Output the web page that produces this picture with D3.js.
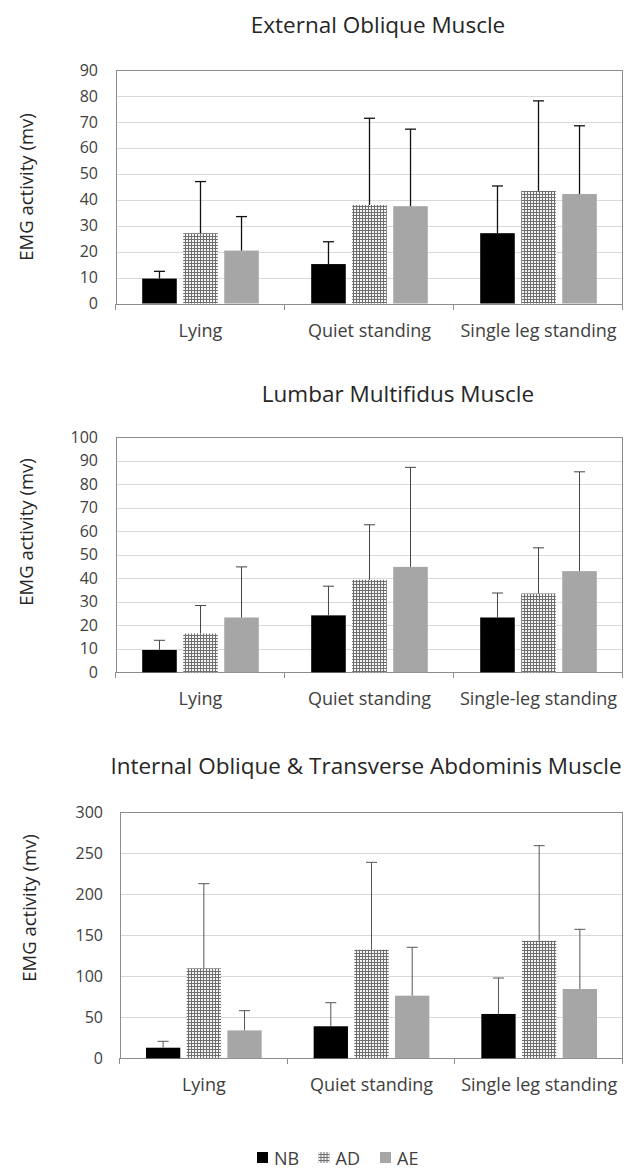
<!DOCTYPE html>
<html><head><meta charset="utf-8">
<script src="https://cdn.jsdelivr.net/npm/d3@7"></script>
<style>body{margin:0;background:#fff}svg{display:block}text{font-family:"Open Sans",sans-serif}</style>
</head><body>
<svg id="c" width="624" height="1169"></svg>
<script>
const series = ["NB","AD","AE"];
const extCategories = ["Lying","Quiet standing","Single leg standing"];
const lumCategories = ["Lying","Quiet standing","Single-leg standing"];
const intCategories = ["Lying","Quiet standing","Single leg standing"];
// [NB, AD, AE] per category
const extMeans = [[9.6,27.1,20.4],[15.2,38.0,37.5],[27.1,43.4,42.2]];
const extSD    = [[2.8,19.9,13.1],[8.6,33.4,29.7],[18.2,34.7,26.3]];
const lumMeans = [[9.5,16.5,23.3],[24.2,39.3,44.8],[23.3,33.5,43.0]];
const lumSD    = [[4.1,11.9,21.5],[12.4,23.4,42.3],[10.4,19.4,42.2]];
const intMeans = [[12.9,109.6,34],[39,132.3,76.3],[54,143.2,84.4]];
const intSD    = [[7.8,103.1,24],[28.7,106.4,58.9],[43.8,115.8,72.7]];
const extTicks = [0,10,20,30,40,50,60,70,80,90];
const lumTicks = [0,10,20,30,40,50,60,70,80,90,100];
const intTicks = [0,50,100,150,200,250,300];

const svg = d3.select("#c");
const defs = svg.append("defs");
const pat = defs.append("pattern").attr("id","dots").attr("patternUnits","userSpaceOnUse")
  .attr("width",3).attr("height",3);
pat.append("rect").attr("width",3).attr("height",3).attr("fill","#6e6e6e");
pat.append("rect").attr("x",0).attr("y",0).attr("width",2).attr("height",2).attr("fill","#f4f4f4");
const fills = {NB:"#000", AD:"url(#dots)", AE:"#a6a6a6"};

function chart(o){
  const g = svg.append("g");
  const x = d3.scaleBand().domain(o.cats).range([o.left,o.right]);
  const bw = x.bandwidth();
  const xi = d3.scaleBand().domain(series).range([0.155*bw, 0.845*bw]).paddingInner(0.157);
  const y = d3.scaleLinear().domain([0,o.max]).range([o.bottom,o.top]);
  // gridlines
  g.append("g").selectAll("line").data(o.ticks.filter(t=>t>0 && t<o.max)).join("line")
    .attr("x1",o.left).attr("x2",o.right).attr("y1",d=>Math.round(y(d))+0.5).attr("y2",d=>Math.round(y(d))+0.5)
    .attr("stroke","#d9d9d9").attr("stroke-width",1);
  // plot border
  g.append("rect").attr("x",o.left+0.5).attr("y",Math.round(o.top)+0.5)
    .attr("width",o.right-o.left-1).attr("height",Math.round(o.bottom)-Math.round(o.top))
    .attr("fill","none").attr("stroke","#8c8c8c").attr("stroke-width",1);
  // bars
  const data = [];
  o.cats.forEach((c,i)=>series.forEach((s,j)=>data.push({c,s,v:o.means[i][j],e:o.sd[i][j]})));
  g.append("g").selectAll("rect").data(data).join("rect")
    .attr("x",d=>x(d.c)+xi(d.s)).attr("width",xi.bandwidth())
    .attr("y",d=>y(d.v)).attr("height",d=>y(0)-y(d.v)).attr("fill",d=>fills[d.s]);
  // error bars
  const eb = g.append("g").attr("stroke",o.errColor).attr("stroke-width",o.errW);
  eb.selectAll("line.v").data(data).join("line").attr("class","v")
    .attr("x1",d=>x(d.c)+xi(d.s)+xi.bandwidth()/2).attr("x2",d=>x(d.c)+xi(d.s)+xi.bandwidth()/2)
    .attr("y1",d=>y(d.v)).attr("y2",d=>y(d.v+d.e));
  eb.selectAll("line.c").data(data).join("line").attr("class","c")
    .attr("x1",d=>x(d.c)+xi(d.s)+xi.bandwidth()/2-5.5).attr("x2",d=>x(d.c)+xi(d.s)+xi.bandwidth()/2+5.5)
    .attr("y1",d=>y(d.v+d.e)).attr("y2",d=>y(d.v+d.e));
  // x axis
  const xa = g.append("g").attr("transform",`translate(0,${Math.round(o.bottom)})`)
    .call(d3.axisBottom(x).tickSize(0).tickPadding(0));
  xa.select(".domain").remove();
  xa.selectAll("text").attr("font-size",18).attr("fill","#404040").attr("dy",null)
    .attr("y",32.5);
  // category boundary ticks
  const bounds = o.cats.map(c=>x(c)).concat([o.right]);
  g.append("g").selectAll("line").data(bounds).join("line")
    .attr("x1",d=>Math.round(d)-0.5).attr("x2",d=>Math.round(d)-0.5)
    .attr("y1",Math.round(o.bottom)).attr("y2",Math.round(o.bottom)+6)
    .attr("stroke","#8c8c8c");
  // y axis labels
  const ya = g.append("g").attr("transform",`translate(${o.left},0)`)
    .call(d3.axisLeft(y).tickValues(o.ticks).tickSize(0).tickPadding(o.labPad).tickFormat(d3.format("d")));
  ya.select(".domain").remove();
  ya.selectAll("text").attr("font-size",16).attr("fill","#404040");
  // y title
  g.append("text").attr("transform",`translate(${o.ytX},${o.ytY}) rotate(-90)`)
    .attr("text-anchor","middle").attr("dominant-baseline","central")
    .attr("font-size",18.5).attr("fill","#262626").text("EMG activity (mv)");
  // title
  g.append("text").attr("x",o.tX).attr("y",o.tY).attr("text-anchor","middle")
    .attr("font-size",22.5).attr("fill","#262626").text(o.title);
}

chart({title:"External Oblique Muscle",cats:extCategories,means:extMeans,sd:extSD,ticks:extTicks,max:90,
  left:116,right:623,top:70,bottom:303.5,labPad:18,ytX:25,ytY:187,tX:378,tY:33,errColor:"#111",errW:1.3});
chart({title:"Lumbar Multifidus Muscle",cats:lumCategories,means:lumMeans,sd:lumSD,ticks:lumTicks,max:100,
  left:116,right:623,top:437,bottom:672.3,labPad:18,ytX:25,ytY:532,tX:398,tY:402,errColor:"#444",errW:1});
chart({title:"Internal Oblique & Transverse Abdominis Muscle",cats:intCategories,means:intMeans,sd:intSD,ticks:intTicks,max:300,
  left:120,right:623,top:812,bottom:1058.3,labPad:17,ytX:28,ytY:908,tX:366,tY:774,errColor:"#555",errW:1});

// legend
const lg = svg.append("g").attr("transform","translate(0,1158)");
const lx = d3.scalePoint().domain(series).range([257,380]);
const it = lg.selectAll("g").data(series).join("g").attr("transform",d=>`translate(${lx(d)},0)`);
it.append("rect").attr("x",0).attr("y",-6).attr("width",11).attr("height",11).attr("fill",d=>fills[d]);
it.append("text").attr("x",17).attr("y",0).attr("dominant-baseline","central").attr("font-size",18)
  .attr("fill","#404040").text(d=>d);
</script>
</body></html>
